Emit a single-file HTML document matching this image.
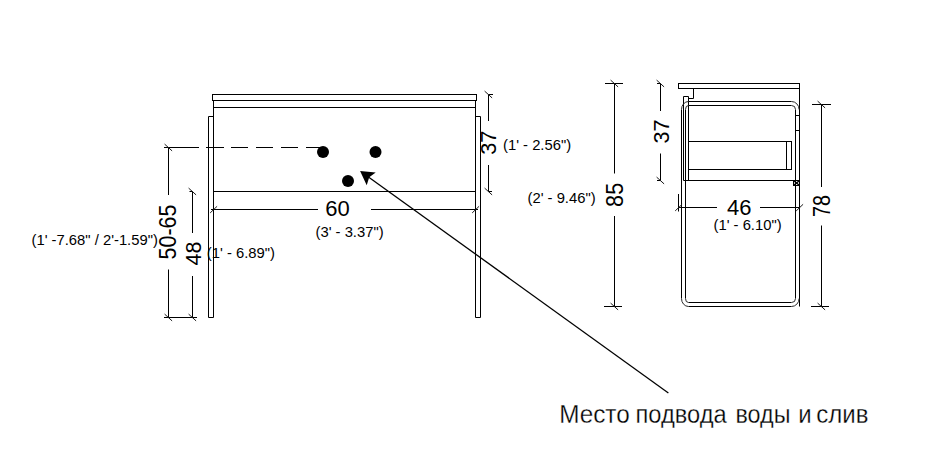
<!DOCTYPE html>
<html>
<head>
<meta charset="utf-8">
<style>
html,body{margin:0;padding:0;background:#fff;}
body{width:940px;height:471px;overflow:hidden;position:relative;font-family:"Liberation Sans",sans-serif;}
svg{position:absolute;left:0;top:0;display:block;}
.l{stroke:#000;stroke-width:1;fill:none;}
.g{stroke:#2a2a2a;stroke-width:1;fill:none;}
.t{stroke:#1a1a1a;stroke-width:1;fill:none;}
text{font-family:"Liberation Sans",sans-serif;fill:#000;}
.big{font-size:22px;}
.sm{font-size:14.8px;}
.cap{font-size:25px;stroke:#fff;stroke-width:0.3px;}
</style>
</head>
<body>
<svg width="940" height="471" viewBox="0 0 940 471">
<rect x="0" y="0" width="940" height="471" fill="#fff"/>

<!-- FRONT VIEW -->
<g class="l">
  <!-- top slab -->
  <rect x="212.5" y="94.5" width="264" height="6"/>
  <!-- cabinet body -->
  <line x1="213.5" y1="100.5" x2="213.5" y2="317.5"/>
  <line x1="475.5" y1="100.5" x2="475.5" y2="317.5"/>
  <line x1="213.5" y1="107.5" x2="475.5" y2="107.5"/>
  <line x1="213.5" y1="191.5" x2="475.5" y2="191.5"/>
  <!-- legs -->
  <polyline points="213.5,116.5 208.5,116.5 208.5,317.5 213.5,317.5"/>
  <polyline points="475.5,116.5 480.5,116.5 480.5,317.5 475.5,317.5"/>
</g>

<!-- dots -->
<circle cx="323" cy="152" r="6" fill="#000"/>
<circle cx="375.5" cy="152" r="6" fill="#000"/>
<circle cx="348" cy="181" r="6" fill="#000"/>

<!-- dashed level line -->
<g class="l">
  <line x1="164" y1="147.5" x2="199" y2="147.5"/>
  <line x1="206" y1="147.5" x2="224" y2="147.5"/>
  <line x1="231" y1="147.5" x2="248" y2="147.5"/>
  <line x1="256" y1="147.5" x2="273" y2="147.5"/>
  <line x1="281" y1="147.5" x2="298" y2="147.5"/>
  <line x1="306" y1="147.5" x2="323" y2="147.5"/>
</g>

<!-- dim 50-65 -->
<g class="l">
  <line x1="168.5" y1="147.5" x2="168.5" y2="195"/>
  <line x1="168.5" y1="269.5" x2="168.5" y2="317.5"/>
  <line x1="164" y1="317.5" x2="197" y2="317.5"/>
</g>
<!-- dim 48 -->
<g class="l">
  <line x1="192.5" y1="191.5" x2="192.5" y2="233"/>
  <line x1="192.5" y1="276" x2="192.5" y2="317.5"/>
  <line x1="189.5" y1="191.5" x2="192.5" y2="191.5"/>
</g>
<!-- dim 60 -->
<g class="l">
  <line x1="211" y1="209.5" x2="318" y2="209.5"/>
  <line x1="371" y1="209.5" x2="478" y2="209.5"/>
</g>
<!-- dim 37 front -->
<g class="l">
  <line x1="488.5" y1="94.5" x2="488.5" y2="121"/>
  <line x1="488.5" y1="165" x2="488.5" y2="191.5"/>
  <line x1="488.5" y1="94.5" x2="493" y2="94.5"/>
  <line x1="488.5" y1="191.5" x2="492" y2="191.5"/>
</g>

<!-- ticks front -->
<g class="t">
  <line x1="164.6" y1="144.1" x2="172.1" y2="150.9"/>
  <line x1="164.6" y1="314.1" x2="172.1" y2="320.9"/>
  <line x1="188.6" y1="314.1" x2="196.1" y2="320.9"/>
  <line x1="188.6" y1="188.1" x2="196.1" y2="194.9"/>
  <line x1="484.6" y1="91.1" x2="492.1" y2="97.9"/>
  <line x1="484.6" y1="188.1" x2="492.1" y2="194.9"/>
  <line x1="210.2" y1="212.9" x2="217.1" y2="206.3"/>
  <line x1="472.2" y1="212.9" x2="479.1" y2="206.3"/>
</g>

<!-- leader arrow -->
<line x1="366" y1="175.2" x2="668.4" y2="393" stroke="#000" stroke-width="1.3"/>
<polygon points="360.1,170.9 375.7,172.6 369.2,177.2 366.7,185.3" fill="#000"/>

<!-- SIDE VIEW -->
<g class="l">
  <!-- top slab -->
  <rect x="678.5" y="83.5" width="121" height="5"/>
  <!-- step -->
  <polyline points="693.5,88.5 693.5,98.5 688.5,98.5"/>
  <!-- back panel -->
  <polyline points="683.5,180.5 683.5,96.5 688.5,96.5 688.5,180.5"/>
  <!-- tube frame: straight parts -->
  <line x1="688.5" y1="101.5" x2="791.5" y2="101.5"/>
  <line x1="688.5" y1="105.5" x2="791.5" y2="105.5"/>
  <line x1="799.5" y1="88.5" x2="799.5" y2="306.5"/>
  <line x1="795.5" y1="109.5" x2="795.5" y2="298.5"/>
  <line x1="681.5" y1="109.5" x2="681.5" y2="298.5"/>
  <line x1="685.5" y1="109.5" x2="685.5" y2="298.5"/>
  <line x1="688.5" y1="306.5" x2="791.5" y2="306.5"/>
  <line x1="688.5" y1="302.5" x2="791.5" y2="302.5"/>
  <!-- small rect on tube right -->
  <line x1="795.5" y1="115.5" x2="799.5" y2="115.5"/>
  <line x1="795.5" y1="130.5" x2="799.5" y2="130.5"/>
  <!-- drawer -->
  <rect x="688.5" y="141.5" width="103" height="28"/>
  <line x1="786.5" y1="141.5" x2="786.5" y2="169.5"/>
  <!-- cabinet bottom -->
  <line x1="683.5" y1="180.5" x2="796" y2="180.5"/>
  <!-- small square -->
  <rect x="793.5" y="180.5" width="6" height="5"/>
</g>
<g stroke="#000" stroke-width="1.4" fill="none">
  <line x1="793.5" y1="180.5" x2="799.5" y2="185.5"/>
  <line x1="799.5" y1="180.5" x2="793.5" y2="185.5"/>
</g>
<!-- tube arcs -->
<g class="g">
  <path d="M688.5,101.5 A7,8 0 0 0 681.5,109.5"/>
  <path d="M688.5,105.5 A3,4 0 0 0 685.5,109.5"/>
  <path d="M791.5,101.5 A7.6,8 0 0 1 799.1,109.5"/>
  <path d="M791.5,105.5 A4,4 0 0 1 795.5,109.5"/>
  <path d="M681.5,298.5 A7,8 0 0 0 688.5,306.5"/>
  <path d="M685.5,298.5 A3,4 0 0 0 688.5,302.5"/>
  <path d="M799.1,298.5 A7.6,8 0 0 1 791.5,306.5"/>
  <path d="M795.5,298.5 A4,4 0 0 1 791.5,302.5"/>
</g>

<!-- dim 85 -->
<g class="l">
  <line x1="614.5" y1="83.5" x2="614.5" y2="173.5"/>
  <line x1="614.5" y1="216" x2="614.5" y2="306.5"/>
  <line x1="605" y1="83.5" x2="623" y2="83.5"/>
  <line x1="604" y1="306.5" x2="622" y2="306.5"/>
</g>
<!-- dim 37 side -->
<g class="l">
  <line x1="660.5" y1="83.5" x2="660.5" y2="111"/>
  <line x1="660.5" y1="153.5" x2="660.5" y2="180.5"/>
  <line x1="657" y1="83.5" x2="660.5" y2="83.5"/>
  <line x1="657" y1="180.5" x2="660.5" y2="180.5"/>
</g>
<!-- dim 46 -->
<g class="l">
  <line x1="678" y1="207.5" x2="717" y2="207.5"/>
  <line x1="760" y1="207.5" x2="800" y2="207.5"/>
  <line x1="678.5" y1="194" x2="678.5" y2="211.5"/>
</g>
<!-- dim 78 -->
<g class="l">
  <line x1="821.5" y1="104.5" x2="821.5" y2="187"/>
  <line x1="821.5" y1="225.5" x2="821.5" y2="306.5"/>
  <line x1="812" y1="104.5" x2="831" y2="104.5"/>
  <line x1="811" y1="306.5" x2="829" y2="306.5"/>
</g>
<!-- ticks side -->
<g class="t">
  <line x1="610.6" y1="80.1" x2="618.1" y2="86.9"/>
  <line x1="610.6" y1="303.1" x2="618.1" y2="309.9"/>
  <line x1="656.6" y1="80.1" x2="664.1" y2="86.9"/>
  <line x1="656.6" y1="177.1" x2="664.1" y2="183.9"/>
  <line x1="817.6" y1="101.1" x2="825.1" y2="107.9"/>
  <line x1="817.6" y1="303.1" x2="825.1" y2="309.9"/>
  <line x1="675.2" y1="210.9" x2="682.1" y2="204.3"/>
  <line x1="796.2" y1="210.9" x2="803.1" y2="204.3"/>
</g>

<!-- TEXT -->
<text class="big" x="325.3" y="216.3">60</text>
<text class="sm" x="315.5" y="237">(3' - 3.37")</text>
<text class="big" x="727" y="214.5">46</text>
<text class="sm" x="713.5" y="229.5">(1' - 6.10")</text>

<text class="sm" x="503" y="149.8">(1' - 2.56")</text>
<text class="sm" x="527.5" y="202.6">(2' - 9.46")</text>
<text class="sm" x="31.5" y="244.5">(1' -7.68" / 2'-1.59")</text>
<text class="sm" x="206.8" y="257.5">(1' - 6.89")</text>

<text class="big" transform="translate(176.09,259.48) rotate(-90) scale(0.976,1.051)">50-65</text>
<text class="big" transform="translate(200.69,265.39) rotate(-90) scale(0.974,1.032)">48</text>
<text class="big" transform="translate(496.40,154.79) rotate(-90) scale(0.987,1.02)">37</text>
<text class="big" transform="translate(668.69,143.58) rotate(-90) scale(0.982,1.032)">37</text>
<text class="big" transform="translate(622.59,206.88) rotate(-90) scale(0.982,1.071)">85</text>
<text class="big" transform="translate(829.78,217.09) rotate(-90) scale(0.902,1.08)">78</text>

<g class="cap">
<text transform="translate(559.26,423) scale(0.9714,1)">Место</text>
<text transform="translate(635.45,423) scale(0.9479,1)">подвода</text>
<text transform="translate(735.47,423) scale(0.9333,1)">воды</text>
<text transform="translate(798.24,423) scale(0.9583,1)">и</text>
<text transform="translate(816.24,423) scale(0.9604,1)">слив</text>
</g>
</svg>
</body>
</html>
